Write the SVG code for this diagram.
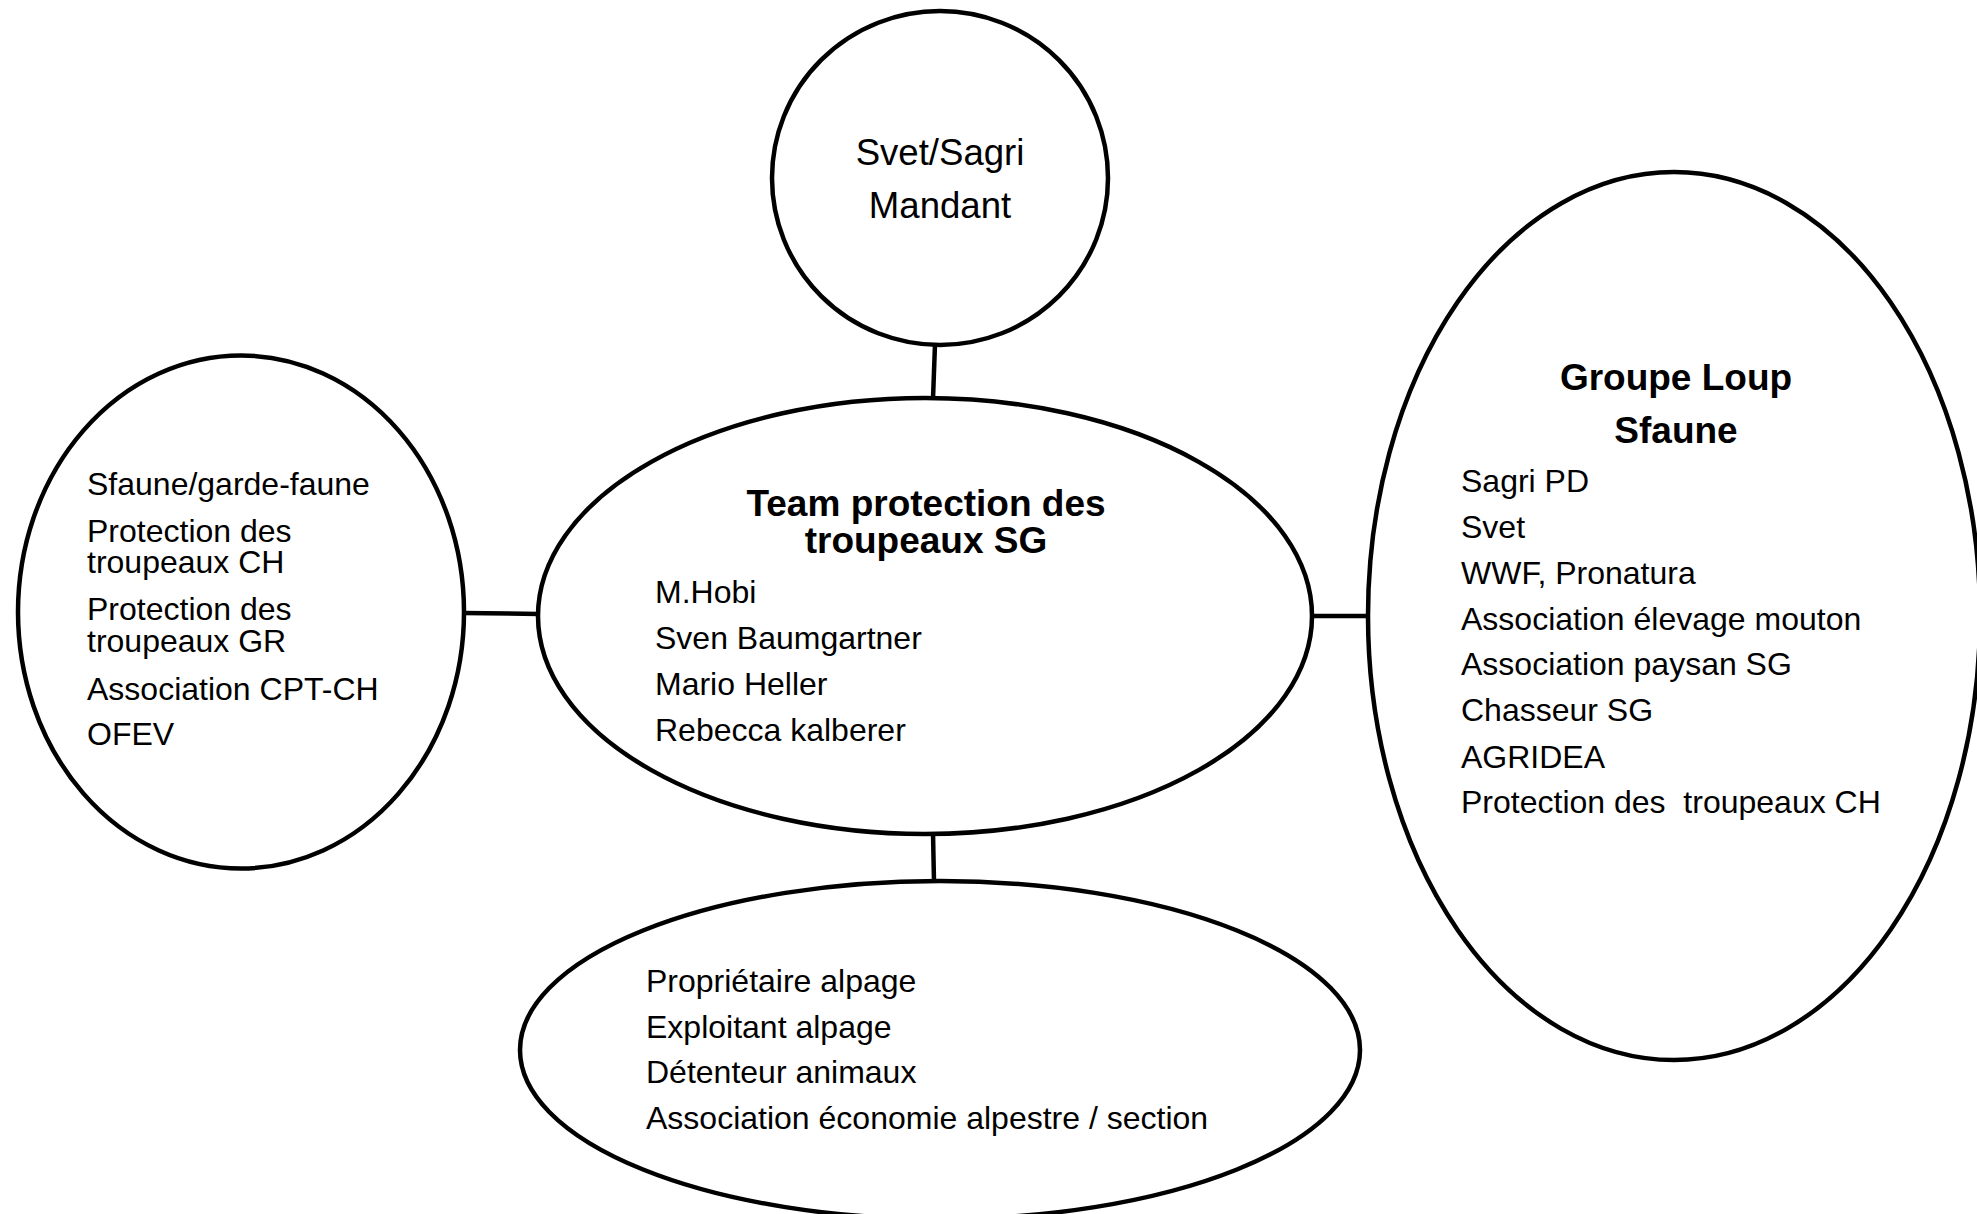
<svg xmlns="http://www.w3.org/2000/svg" width="1977" height="1214" viewBox="0 0 1977 1214">
<style>
.shape{fill:#ffffff;stroke:#000000;stroke-width:4.5}
.conn{stroke:#000000;stroke-width:4.5;fill:none}
text{font-family:"Liberation Sans",Arial,sans-serif;fill:#000000}
.t{font-size:32px}
.big{font-size:36.6px}
.b{font-size:37px;font-weight:bold}
.c{text-anchor:middle}
</style>
<rect width="1977" height="1214" fill="#ffffff"/>
<g id="connectors">
<line class="conn" x1="935" y1="344" x2="933" y2="399"/>
<line class="conn" x1="463" y1="613" x2="539" y2="614"/>
<line class="conn" x1="1311" y1="616" x2="1369" y2="616"/>
<line class="conn" x1="933" y1="833" x2="934" y2="882"/>
</g>
<g id="node-mandant">
<ellipse class="shape" cx="940" cy="178" rx="168" ry="167"/>
<text class="big c" x="940" y="165">Svet/Sagri</text>
<text class="big c" x="940" y="218">Mandant</text>
</g>
<g id="node-team">
<ellipse class="shape" cx="925" cy="616" rx="387" ry="218"/>
<text class="b c" x="926" y="516">Team protection des</text>
<text class="b c" x="926" y="553">troupeaux SG</text>
<text class="t" x="655" y="603">M.Hobi</text>
<text class="t" x="655" y="649">Sven Baumgartner</text>
<text class="t" x="655" y="695">Mario Heller</text>
<text class="t" x="655" y="741">Rebecca kalberer</text>
</g>
<g id="node-left">
<ellipse class="shape" cx="241" cy="612" rx="223" ry="256.5"/>
<text class="t" x="87" y="495">Sfaune/garde-faune</text>
<text class="t" x="87" y="542">Protection des</text>
<text class="t" x="87" y="573">troupeaux CH</text>
<text class="t" x="87" y="620">Protection des</text>
<text class="t" x="87" y="652">troupeaux GR</text>
<text class="t" x="87" y="700">Association CPT-CH</text>
<text class="t" x="87" y="745">OFEV</text>
</g>
<g id="node-groupe-loup">
<ellipse class="shape" cx="1674" cy="616" rx="306" ry="444"/>
<text class="b c" x="1676" y="390">Groupe Loup</text>
<text class="b c" x="1676" y="443">Sfaune</text>
<text class="t" x="1461" y="492">Sagri PD</text>
<text class="t" x="1461" y="538">Svet</text>
<text class="t" x="1461" y="584">WWF, Pronatura</text>
<text class="t" x="1461" y="630">Association élevage mouton</text>
<text class="t" x="1461" y="675">Association paysan SG</text>
<text class="t" x="1461" y="721">Chasseur SG</text>
<text class="t" x="1461" y="768">AGRIDEA</text>
<text class="t" x="1461" y="813" xml:space="preserve">Protection des  troupeaux CH</text>
</g>
<g id="node-alpage">
<ellipse class="shape" cx="940" cy="1050" rx="420" ry="169"/>
<text class="t" x="646" y="992">Propriétaire alpage</text>
<text class="t" x="646" y="1038">Exploitant alpage</text>
<text class="t" x="646" y="1083">Détenteur animaux</text>
<text class="t" x="646" y="1129">Association économie alpestre / section</text>
</g>
</svg>
